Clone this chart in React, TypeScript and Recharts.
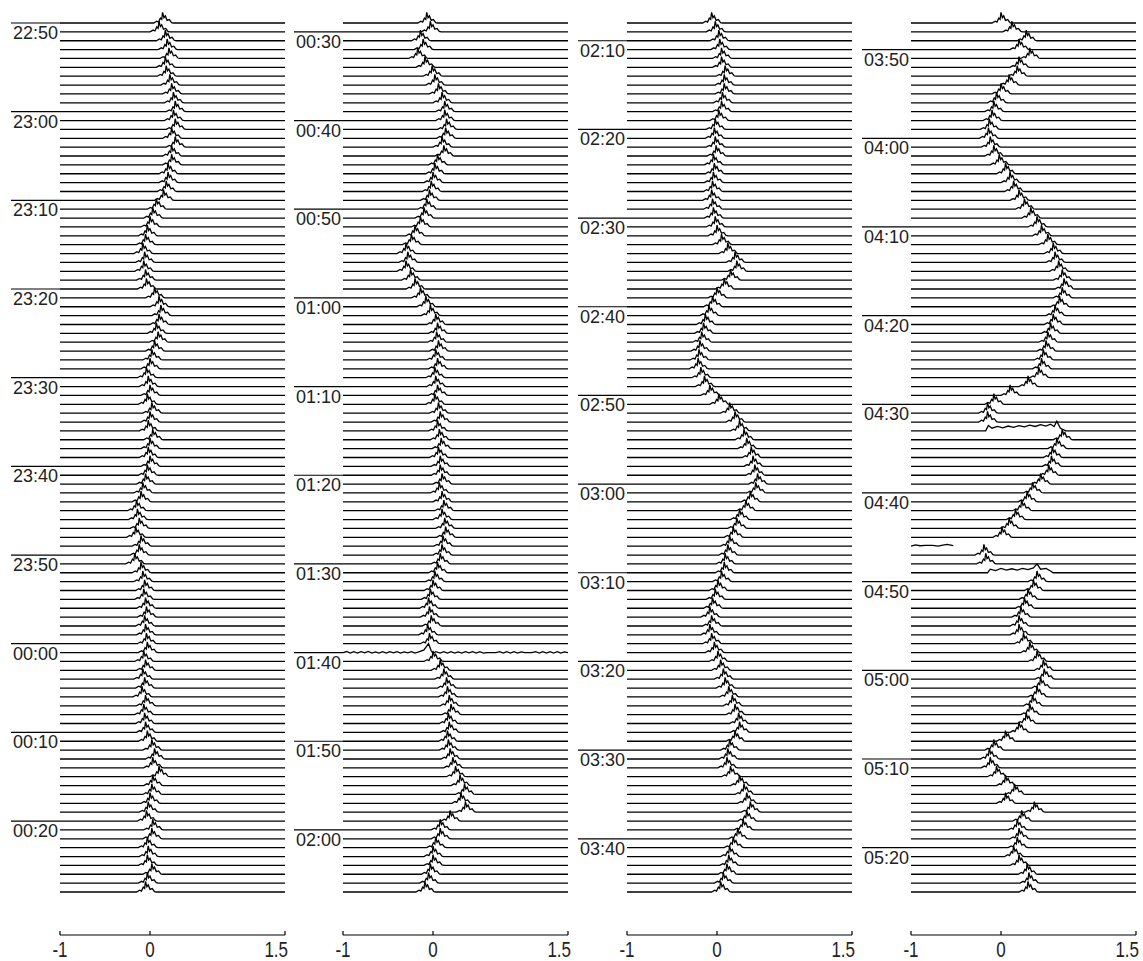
import { LineChart, Line, XAxis, YAxis } from 'recharts'

// start minute of each panel (one trace per minute)
const panelStarts = ['22:50', '00:29', '02:08', '03:47']

// time labels shown beside the traces
const labelsP1 = ['22:50', '23:00', '23:10', '23:20', '23:30', '23:40', '23:50', '00:00', '00:10', '00:20']
const labelsP2 = ['00:30', '00:40', '00:50', '01:00', '01:10', '01:20', '01:30', '01:40', '01:50', '02:00']
const labelsP3 = ['02:10', '02:20', '02:30', '02:40', '02:50', '03:00', '03:10', '03:20', '03:30', '03:40']
const labelsP4 = ['03:50', '04:00', '04:10', '04:20', '04:30', '04:40', '04:50', '05:00', '05:10', '05:20']

// peak position of each minute trace (x units)
const peaksP1 = [
  0.14, 0.10, 0.17, 0.19, 0.21, 0.17, 0.18, 0.22, 0.24, 0.26,
  0.28, 0.26, 0.28, 0.24, 0.28, 0.24, 0.24, 0.2, 0.2, 0.18,
  0.15, 0.07, 0.03, 0.0, -0.03, -0.05, -0.08, -0.06, -0.07, -0.05,
  -0.04, 0.05, 0.1, 0.12, 0.1, 0.07, 0.09, 0.05, 0.02, 0.0,
  -0.04, -0.02, 0.0, -0.03, 0.02, 0.0, -0.02, 0.03, 0.0, -0.02,
  0.0, -0.03, -0.05, -0.08, -0.1, -0.15, -0.14, -0.12, -0.16, -0.1,
  -0.12, -0.17, -0.1, -0.08, -0.06, -0.07, -0.05, -0.04, -0.06, -0.05,
  -0.04, -0.03, -0.07, -0.05, -0.08, -0.06, -0.09, -0.05, -0.07, -0.06,
  -0.05, -0.03, 0.02, 0.05, 0.03, 0.1, 0.03, 0.02, 0.0, -0.02,
  -0.04, 0.03, 0.02, -0.03, -0.02, -0.03, 0.02, -0.03, -0.05,
]
const peaksP2 = [
  -0.07, -0.03, -0.14, -0.11, -0.17, -0.09, -0.01, 0.02, 0.06, 0.1,
  0.13, 0.13, 0.15, 0.14, 0.1, 0.12, 0.05, 0.02, 0.0, -0.02,
  -0.04, -0.07, -0.1, -0.14, -0.2, -0.24, -0.3, -0.28, -0.3, -0.25,
  -0.2, -0.14, -0.08, -0.03, 0.03, 0.05, 0.04, 0.06, 0.03, 0.05,
  0.02, 0.03, 0.05, 0.02, 0.06, 0.08, 0.05, 0.07, 0.09, 0.06,
  0.08, 0.08, 0.1, 0.07, 0.1, 0.12, 0.1, 0.13, 0.14, 0.11,
  0.1, 0.08, 0.05, 0.02, 0.0, -0.03, -0.05, -0.04, -0.02, -0.06,
  -0.04, -0.05, 0.0, 0.08, 0.12, 0.15, 0.16, 0.18, 0.2, 0.17,
  0.18, 0.16, 0.17, 0.19, 0.22, 0.25, 0.3, 0.35, 0.31, 0.36,
  0.19, 0.08, 0.08, 0.03, 0.0, 0.0, -0.03, -0.05, -0.09,
]
const peaksP3 = [
  -0.06, -0.02, 0.02, 0.03, 0.05, 0.05, 0.09, 0.08, 0.08, 0.06,
  0.05, 0.02, -0.02, -0.03, -0.02, -0.01, -0.04, -0.03, -0.04, -0.05,
  -0.06, -0.05, -0.04, -0.02, 0.0, 0.05, 0.12, 0.2, 0.22, 0.15,
  0.08, 0.0, -0.05, -0.09, -0.13, -0.15, -0.17, -0.19, -0.2, -0.21,
  -0.18, -0.14, -0.08, 0.02, 0.14, 0.2, 0.25, 0.3, 0.33, 0.38,
  0.4, 0.42, 0.45, 0.43, 0.37, 0.32, 0.25, 0.22, 0.18, 0.14,
  0.12, 0.09, 0.08, 0.05, 0.01, -0.02, -0.05, -0.08, -0.06, -0.08,
  -0.06, -0.03, 0.01, 0.04, 0.07, 0.09, 0.13, 0.17, 0.2, 0.24,
  0.25, 0.2, 0.14, 0.12, 0.11, 0.15, 0.25, 0.3, 0.33, 0.37,
  0.33, 0.29, 0.23, 0.18, 0.14, 0.13, 0.11, 0.07, 0.04,
]
const peaksP4 = [
  0.0, 0.12, 0.28, 0.2, 0.32, 0.2, 0.18, 0.09, 0.0, -0.05,
  -0.08, -0.1, -0.13, -0.14, -0.12, -0.08, -0.02, 0.05, 0.1, 0.14,
  0.2, 0.26, 0.33, 0.4, 0.45, 0.52, 0.58, 0.6, 0.64, 0.68,
  0.7, 0.68, 0.65, 0.6, 0.58, 0.55, 0.52, 0.5, 0.47, 0.45,
  0.42, 0.3, 0.1, -0.08, -0.15, -0.15, 0.62, 0.68, 0.62, 0.57,
  0.56, 0.53, 0.44, 0.35, 0.29, 0.23, 0.16, 0.09, 0.01, -0.15,
  -0.19, -0.17, 0.4, 0.4, 0.36, 0.3, 0.26, 0.22, 0.2, 0.2,
  0.25, 0.32, 0.4, 0.47, 0.48, 0.44, 0.4, 0.35, 0.32, 0.28,
  0.2, 0.05, -0.08, -0.13, -0.12, -0.05, 0.05, 0.15, 0.05, 0.37,
  0.23, 0.18, 0.2, 0.18, 0.14, 0.2, 0.29, 0.31, 0.3,
]

// typical jagged spike around a peak: [offset, height in line spacings]
const bumpProfile = [
  [-0.1, 0], [-0.065, 0.2], [-0.045, 0.1], [-0.025, 0.55], [-0.01, 0.4], [0, 1.2],
  [0.015, 0.6], [0.03, 0.8], [0.05, 0.3], [0.075, 0.38], [0.1, 0.05], [0.12, 0],
]

// traces that do not follow the usual single spike: [x, height]
const wavyTrace0140 = [
  [-1, 0], [-0.96, 0.12], [-0.92, -0.05], [-0.88, 0.1], [-0.84, -0.06], [-0.8, 0.1], [-0.76, -0.04],
  [-0.72, 0.12], [-0.68, -0.05], [-0.64, 0.08], [-0.6, -0.06], [-0.56, 0.1], [-0.52, -0.05], [-0.48, 0.1],
  [-0.44, -0.04], [-0.4, 0.1], [-0.36, -0.05], [-0.32, 0.08], [-0.28, -0.04], [-0.24, 0.1], [-0.2, -0.05],
  [-0.15, 0.1], [-0.1, 0.3], [-0.05, 1.0], [-0.02, 0.2], [0.0, -0.1], [0.03, 0.1], [0.08, -0.05],
  [0.12, 0.1], [0.16, -0.05], [0.2, 0.1], [0.24, -0.05], [0.28, 0.08], [0.32, -0.05], [0.36, 0.1],
  [0.4, -0.04], [0.44, 0.1], [0.48, -0.05], [0.52, 0.1], [0.56, -0.05], [0.6, 0], [0.7, 0],
  [0.74, 0.1], [0.78, -0.05], [0.82, 0.1], [0.86, -0.05], [0.9, 0.1], [0.94, -0.05], [0.98, 0.08],
  [1.02, 0], [1.1, 0], [1.14, 0.1], [1.18, -0.05], [1.22, 0.1], [1.26, -0.05], [1.3, 0.1],
  [1.34, -0.05], [1.38, 0.1], [1.42, -0.05], [1.46, 0.08], [1.5, 0],
]
const broadTrace0433 = [
  [-1, 0], [-0.17, 0], [-0.14, 0.6], [-0.1, 0.3], [-0.04, 0.5], [0.02, 0.35], [0.08, 0.55], [0.14, 0.4],
  [0.2, 0.6], [0.26, 0.45], [0.32, 0.65], [0.38, 0.5], [0.44, 0.7], [0.5, 0.55], [0.55, 0.75],
  [0.59, 0.5], [0.62, 1.1], [0.66, 0.3], [0.72, 0], [1.5, 0],
]
const brokenTrace0446 = [
  [-1, 0], [-0.95, 0.15], [-0.9, 0.05], [-0.84, 0.1], [-0.76, 0.08], [-0.7, 0.0], [-0.66, 0.1],
  [-0.6, 0.2], [-0.53, 0.05],
]
const broadTrace0449 = [
  [-1, 0], [-0.15, 0], [-0.12, 0.4], [-0.06, 0.25], [0.0, 0.5], [0.06, 0.3], [0.12, 0.45], [0.18, 0.3],
  [0.24, 0.5], [0.3, 0.35], [0.36, 0.55], [0.4, 1.0], [0.44, 0.4], [0.5, 0.5], [0.55, 0.2], [0.58, 0],
  [1.5, 0],
]

const xTicks = [-1, 0, 1.5]

const panels = [
  { start: panelStarts[0], labels: labelsP1, peaks: peaksP1, special: {} as Record<number, number[][]> },
  { start: panelStarts[1], labels: labelsP2, peaks: peaksP2, special: { 71: wavyTrace0140 } as Record<number, number[][]> },
  { start: panelStarts[2], labels: labelsP3, peaks: peaksP3, special: {} as Record<number, number[][]> },
  {
    start: panelStarts[3],
    labels: labelsP4,
    peaks: peaksP4,
    special: { 46: broadTrace0433, 59: brokenTrace0446, 62: broadTrace0449 } as Record<number, number[][]>,
  },
]

const toMin = (t: string) => {
  const [h, m] = t.split(':').map(Number)
  return h * 60 + m
}

const buildTrace = (idx: number, peak: number, special?: number[][]) => {
  const shape = special
    ? special
    : [[-1, 0], ...bumpProfile.map(([dx, h]) => [peak + dx, h]), [1.5, 0]]
  return shape.map(([x, h]) => ({ x, y: -idx + h }))
}

const PANEL_LEFTS = [0, 283, 567, 851]
const FONT = '"Liberation Sans", Arial, sans-serif'

const Panel = ({ panel, left }: { panel: (typeof panels)[number]; left: number }) => {
  const startMin = toMin(panel.start)
  const labelAt = new Map<number, string>()
  panel.labels.forEach((l) => {
    let d = toMin(l) - startMin
    if (d < 0) d += 1440
    labelAt.set(-d, l)
  })
  const yTicks = Array.from(labelAt.keys())

  const YTick = (props: any) => {
    const { x, y, payload } = props
    return (
      <g>
        <line x1={x - 49} x2={x} y1={y} y2={y} stroke="#000" strokeWidth={1.2} />
        <text x={x - 2} y={y + 16} textAnchor="end" fontSize={18} fontFamily={FONT} fill="#222">
          {labelAt.get(payload.value)}
        </text>
      </g>
    )
  }

  const XTick = (props: any) => {
    const { x, y, payload } = props
    const last = payload.value === 1.5
    return (
      <g>
        <line x1={x} x2={x} y1={y} y2={y - 4} stroke="#000" strokeWidth={1.2} />
        <text
          transform={`translate(${last ? x + 3 : x},${y + 22}) scale(1,1.3)`}
          textAnchor={last ? 'end' : 'middle'}
          fontSize={17}
          fontFamily={FONT}
          fill="#222"
        >
          {payload.value}
        </text>
      </g>
    )
  }

  return (
    <div style={{ position: 'absolute', left, top: 0 }}>
      <LineChart width={295} height={961} margin={{ top: 5, right: 10, bottom: 0, left: 0 }}>
        <XAxis
          type="number"
          dataKey="x"
          domain={[-1, 1.5]}
          ticks={xTicks}
          interval={0}
          allowDataOverflow
          height={26}
          axisLine={{ stroke: '#000', strokeWidth: 1.2 }}
          tickLine={false}
          tickSize={0}
          tickMargin={0}
          tick={XTick}
        />
        <YAxis
          type="number"
          domain={[-102.85, 2.03]}
          allowDataOverflow
          ticks={yTicks}
          interval={0}
          width={60}
          axisLine={false}
          tickLine={false}
          tickSize={0}
          tickMargin={0}
          tick={YTick}
        />
        {panel.peaks.map((p, i) => (
          <Line
            key={i}
            data={buildTrace(i, p, panel.special[i])}
            dataKey="y"
            stroke="#000"
            strokeWidth={1.3}
            dot={false}
            activeDot={false}
            isAnimationActive={false}
          />
        ))}
      </LineChart>
    </div>
  )
}

export default function App() {
  return (
    <div style={{ position: 'absolute', left: 0, top: 0, width: 1143, height: 961, background: '#fff' }}>
      {panels.map((p, i) => (
        <Panel key={i} panel={p} left={PANEL_LEFTS[i]} />
      ))}
    </div>
  )
}
